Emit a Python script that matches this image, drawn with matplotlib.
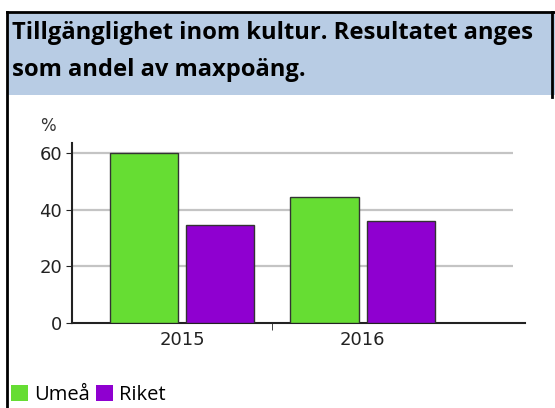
import numpy as np
import matplotlib.pyplot as plt
from matplotlib.patches import Rectangle, Patch

years = ['2015', '2016']
umea = [60, 44.4]
riket = [34.5, 35.9]
yticks = [0, 20, 40, 60]
title_lines = ['Tillgänglighet inom kultur. Resultatet anges', 'som andel av maxpoäng.']

green = '#66dd33'
purple = '#8f00d0'

W, H = 555, 408
fig = plt.figure(figsize=(W / 100, H / 100), dpi=100)

# overlay in pixel coordinates for the frame and title box
bg = fig.add_axes([0, 0, 1, 1])
bg.set_xlim(0, W)
bg.set_ylim(H, 0)
bg.axis('off')
bg.add_patch(Rectangle((7, 12), W - 7, 83, facecolor='#b8cce4', edgecolor='none'))
bg.plot([7, 7], [12, H], color='black', lw=2)
bg.plot([7, W], [12, 12], color='black', lw=2)
bg.plot([552, 552], [12, 97], color='black', lw=2)
bg.text(12, 39, title_lines[0], fontsize=17.1, fontweight='bold', family='Open Sans', va='baseline', ha='left')
bg.text(12, 76, title_lines[1], fontsize=17.1, fontweight='bold', family='Open Sans', va='baseline', ha='left')
bg.text(40, 131, '%', fontsize=12, color='#333333', va='baseline', ha='left')

ax = fig.add_axes([72 / W, (H - 323) / H, (525 - 72) / W, (323 - 143) / H])
x = np.arange(len(years))
bw = 0.378
off = 0.211
ax.bar(x - off, umea, bw, color=green, edgecolor='#333333', linewidth=1, zorder=3)
ax.bar(x + off, riket, bw, color=purple, edgecolor='#333333', linewidth=1, zorder=3)
ax.set_xlim(-0.611, 1.90)
ax.set_ylim(0, 63.5)
ax.hlines(yticks[1:], -0.611, 1.834, color='#c4c4c4', lw=1.6, zorder=1)

ax.set_yticks(yticks)
ax.set_xticks(x)
ax.set_xticklabels(years)
ax.set_xticks([0.5], minor=True)
ax.tick_params(axis='x', which='major', length=0, pad=6, labelsize=13, labelcolor='#222222')
ax.tick_params(axis='x', which='minor', length=5, direction='out', color='#222222')
ax.tick_params(axis='y', length=4, labelsize=13, labelcolor='#222222', color='#222222', pad=3)
for s in ['top', 'right']:
    ax.spines[s].set_visible(False)
for s in ['left', 'bottom']:
    ax.spines[s].set_color('#222222')
    ax.spines[s].set_linewidth(1.5)

handles = [Patch(facecolor=green, edgecolor='none'), Patch(facecolor=purple, edgecolor='none')]
fig.legend(handles, ['Umeå', 'Riket'], loc='lower left', bbox_to_anchor=(11 / W, 3 / H),
           ncol=2, frameon=False, handlelength=0.85, handleheight=0.85, handletextpad=0.3,
           columnspacing=0.3, prop={'family': 'Open Sans', 'size': 14.5},
           borderaxespad=0, borderpad=0)

fig.savefig('out.png', dpi=100)
